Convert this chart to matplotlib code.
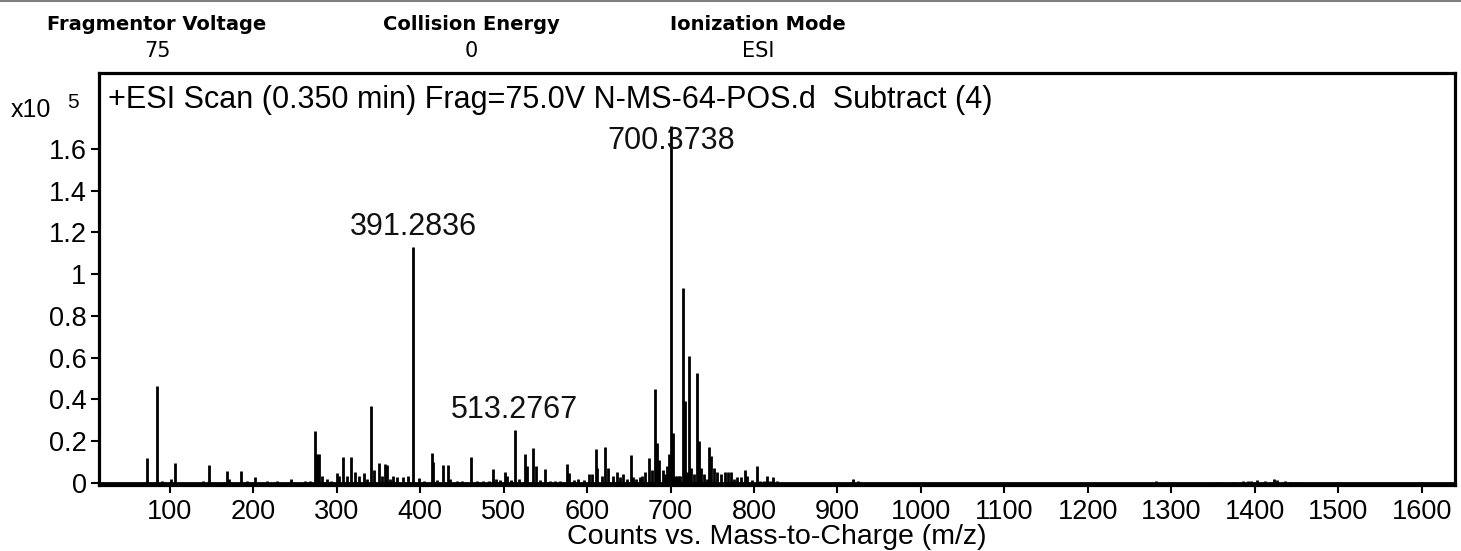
import matplotlib
matplotlib.use("Agg")
import matplotlib.pyplot as plt
from matplotlib import font_manager
from matplotlib.lines import Line2D

# spectrum peaks: m/z and counts (x10^5)
mz = [73.0, 84.2, 90.6, 100.9, 106.5, 140.0, 146.9, 168.8, 171.0, 185.2,
      192.0, 202.0, 216.0, 228.7, 245.5, 262.0, 268.0, 274.0, 276.3, 277.5,
      279.1, 282.0, 287.9, 292.7, 299.9, 303.0, 307.8, 312.0, 317.2, 322.0,
      326.0, 332.0, 336.0, 340.9, 344.6, 350.2, 353.8, 357.4, 359.8, 363.7,
      367.7, 372.0, 379.7, 385.6, 391.2836, 398.8, 404.0, 413.7, 415.6, 420.0,
      426.9, 432.8, 435.6, 443.6, 450.0, 460.8, 468.0, 475.5, 482.0, 487.5,
      490.7, 496.0, 501.5, 504.3, 509.0, 513.2767, 518.0, 525.5, 527.5, 535.3,
      538.3, 543.0, 549.4, 555.4, 562.0, 568.0, 575.7, 578.5, 584.0, 589.3,
      596.0, 602.7, 605.5, 610.3, 612.3, 617.5, 621.5, 625.5, 630.7, 636.3,
      639.5, 643.5, 648.3, 652.1, 655.3, 659.0, 663.2, 666.0, 669.2, 674.1,
      677.2, 681.2, 684.0, 686.4, 690.4, 693.0, 695.5, 698.4, 700.3738, 703.1,
      705.0, 707.2, 709.5, 711.5, 714.4, 717.1, 719.5, 722.3, 725.0, 728.0,
      731.2, 734.0, 737.0, 740.0, 743.5, 746.3, 748.5, 752.0, 756.0, 760.0,
      765.0, 768.5, 772.0, 776.0, 780.0, 784.0, 789.0, 792.0, 797.0, 803.0,
      807.0, 812.0, 816.0, 819.0, 823.0, 828.0, 918.3, 925.0, 1281.7, 1354.0,
      1374.0, 1386.0, 1392.0, 1395.0, 1403.0, 1412.0, 1423.0, 1427.0, 1436.5, 1444.0,
      1450.0]
counts = [0.117, 0.464, 0.010, 0.020, 0.096, 0.010, 0.083, 0.055, 0.020, 0.055,
          0.010, 0.029, 0.010, 0.010, 0.020, 0.008, 0.010, 0.250, 0.140, 0.130,
          0.136, 0.030, 0.020, 0.008, 0.048, 0.030, 0.122, 0.030, 0.122, 0.050,
          0.030, 0.045, 0.020, 0.370, 0.060, 0.096, 0.030, 0.088, 0.085, 0.020,
          0.030, 0.025, 0.025, 0.030, 1.131, 0.024, 0.010, 0.144, 0.100, 0.015,
          0.085, 0.085, 0.020, 0.010, 0.010, 0.125, 0.008, 0.010, 0.010, 0.064,
          0.020, 0.015, 0.050, 0.030, 0.015, 0.252, 0.020, 0.139, 0.080, 0.165,
          0.080, 0.015, 0.064, 0.010, 0.010, 0.010, 0.090, 0.045, 0.015, 0.020,
          0.012, 0.040, 0.040, 0.160, 0.070, 0.030, 0.171, 0.070, 0.030, 0.050,
          0.025, 0.040, 0.020, 0.133, 0.025, 0.020, 0.025, 0.030, 0.050, 0.117,
          0.060, 0.448, 0.190, 0.110, 0.060, 0.040, 0.080, 0.140, 1.712, 0.240,
          0.030, 0.030, 0.030, 0.030, 0.933, 0.390, 0.050, 0.605, 0.070, 0.040,
          0.525, 0.200, 0.070, 0.040, 0.020, 0.173, 0.130, 0.070, 0.050, 0.040,
          0.050, 0.050, 0.050, 0.020, 0.025, 0.025, 0.060, 0.030, 0.015, 0.080,
          0.010, 0.010, 0.030, 0.010, 0.025, 0.008, 0.016, 0.007, 0.006, 0.004,
          0.005, 0.006, 0.006, 0.006, 0.012, 0.006, 0.020, 0.012, 0.006, 0.004,
          0.004]

label_mz = [391.2836, 513.2767, 700.3738]
label_counts = [1.131, 0.252, 1.712]

header_names = ["Fragmentor Voltage", "Collision Energy", "Ionization Mode"]
header_values = ["75", "0", "ESI"]

xticks = list(range(100, 1700, 100))
yticks = [0, 0.2, 0.4, 0.6, 0.8, 1.0, 1.2, 1.4, 1.6]
ytick_labels = ["0", "0.2", "0.4", "0.6", "0.8", "1", "1.2", "1.4", "1.6"]

title = "+ESI Scan (0.350 min) Frag=75.0V N-MS-64-POS.d  Subtract (4)"


def pick_font(names):
    have = {f.name for f in font_manager.fontManager.ttflist}
    for n in names:
        if n in have:
            return n
    return "DejaVu Sans"


main_font = pick_font(["Liberation Sans", "Arial"])
head_font = pick_font(["DejaVu Sans Condensed", "Liberation Sans Narrow", "DejaVu Sans"])
plt.rcParams["font.family"] = main_font

W, H = 1461, 551
fig = plt.figure(figsize=(W / 100, H / 100), dpi=100)

def fx(px):
    return px / W

def fy(py):
    return 1 - py / H

ax = fig.add_axes([fx(99), fy(485), fx(1455) - fx(99), fy(73) - fy(485)])

ax.vlines(mz, 0, counts, colors="black", linewidth=2.0)
ax.axhline(0, color="black", linewidth=2.0)

ax.set_xlim(15, 1640)
ax.set_ylim(-0.011, 1.964)

ax.set_xticks(xticks)
ax.set_yticks(yticks)
ax.set_yticklabels(ytick_labels)
ax.tick_params(axis="both", direction="out", length=6, width=1.5,
               labelsize=19.5, pad=3, colors="black")
ax.tick_params(axis="x", pad=4)
for s in ax.spines.values():
    s.set_linewidth(2.3)

ax.set_xlabel("Counts vs. Mass-to-Charge (m/z)", fontsize=20.5, labelpad=-1)

# peak labels, offset in points from the peak top
offsets = [14, 14.5, -11]
for m, c, off in zip(label_mz, label_counts, offsets):
    ax.annotate(f"{m:.4f}", (m, c), xytext=(0, off), textcoords="offset points",
                ha="center", va="center", fontsize=22, color="#111111")

fig.text(fx(108), fy(100), title, fontsize=22, ha="left", va="center")

fig.text(fx(51), fy(110), "x10", fontsize=18, ha="right", va="center")
fig.text(fx(67), fy(102), "5", fontsize=15, ha="left", va="center")

# header block
head_x = [157, 471, 758]
for hx, name, val in zip(head_x, header_names, header_values):
    fig.text(fx(hx), fy(24), name, fontsize=14, fontweight="bold",
             family=head_font, ha="center", va="center")
    fig.text(fx(hx), fy(51), val, fontsize=15, family=head_font,
             ha="center", va="center")

fig.add_artist(Line2D([0, 1], [fy(1), fy(1)], color="#808080", linewidth=1.5,
                      transform=fig.transFigure))

fig.savefig("out.png", dpi=100)
